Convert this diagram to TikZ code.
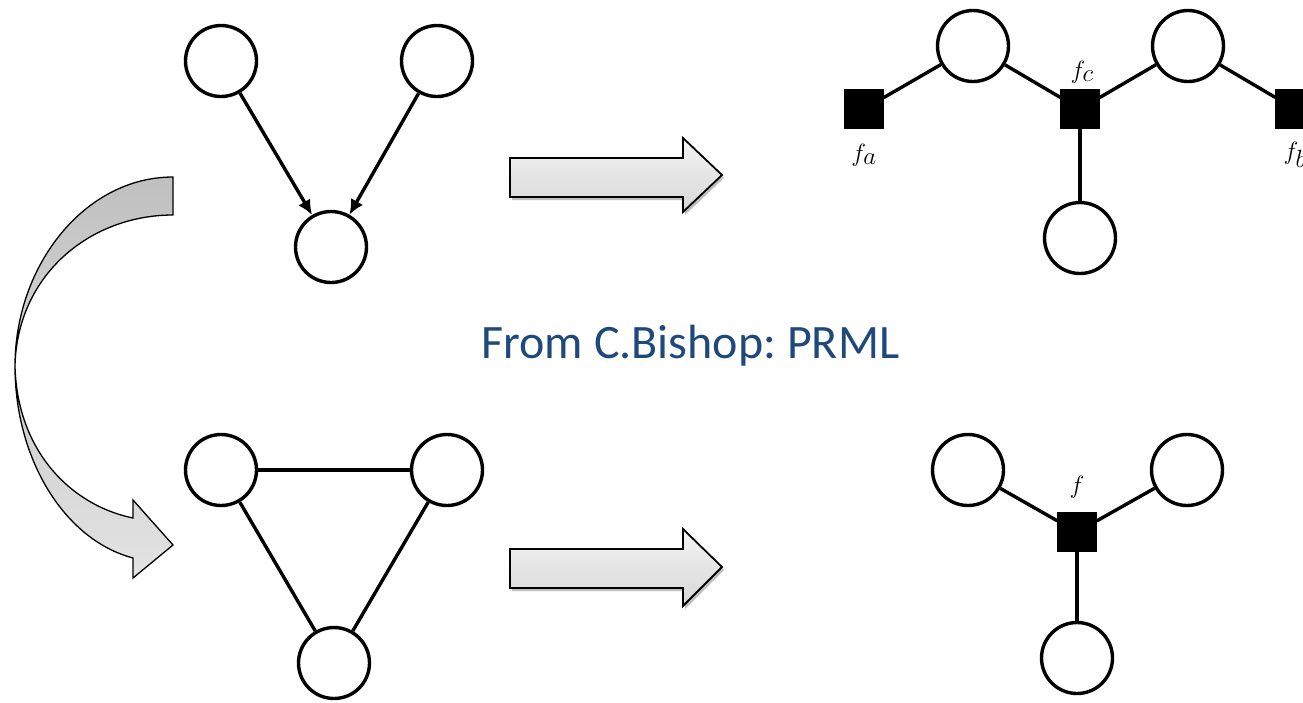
\documentclass[tikz,border=0pt]{standalone}
\usepackage{fontspec}
\newfontfamily\calibri{Carlito}
\usetikzlibrary{arrows.meta,shadows}
\definecolor{titleblue}{RGB}{31,73,125}
\frenchspacing
\begin{document}
\begin{tikzpicture}[x=1pt,y=-1pt,
  var/.style={circle,draw=black,line width=3.4pt,minimum size=71pt,inner sep=0pt},
  fac/.style={rectangle,fill=black,draw=black,minimum size=39pt,inner sep=0pt},
  edge/.style={line width=3.4pt},
  dedge/.style={line width=3.4pt,-{Latex[length=15pt,width=14pt]}},
  lab/.style={font=\fontsize{40}{48}\selectfont,inner sep=0pt},
  barrow/.style={draw=black,line width=1.8pt,line join=miter,top color=gray!8,bottom color=gray!32,
    drop shadow={shadow xshift=2pt,shadow yshift=-3pt,opacity=0.25,fill=black}},
  carrow/.style={draw=black,line width=1.3pt,line join=miter},
]
\useasboundingbox (0,0) rectangle (1303,702);

% curved arrow
\path[carrow,top color=gray!50,bottom color=gray!32]
  (173,177) .. controls (85,177) and (15,265) .. (15,366)
  .. controls (17,275) and (90,215) .. (173,215) -- cycle;
\path[carrow,top color=gray!40,bottom color=gray!22]
  (15,366) .. controls (15,460) and (65,540) .. (133,558)
  -- (133,578) -- (173,545) -- (133,500) -- (133,518)
  .. controls (70,505) and (17,450) .. (15,366) -- cycle;

% block arrows
\path[barrow] (510,158) -- (683,158) -- (683,138) -- (722,175) -- (683,212) -- (683,197) -- (510,197) -- cycle;
\path[barrow] (510,549) -- (683,549) -- (683,529) -- (722,567) -- (683,606) -- (683,588) -- (510,588) -- cycle;

% directed graph
\node[var] (a1) at (221,61) {};
\node[var] (a2) at (437,61) {};
\node[var] (a3) at (331,247) {};
\draw[dedge] (a1) -- (a3);
\draw[dedge] (a2) -- (a3);

% undirected graph
\node[var] (b1) at (221,470) {};
\node[var] (b2) at (447,470) {};
\node[var] (b3) at (334,663) {};
\draw[edge] (b1) -- (b2);
\draw[edge] (b1) -- (b3);
\draw[edge] (b2) -- (b3);

% factor graph top right
\node[fac] (fa) at (864,109) {};
\node[var] (c1) at (973,46) {};
\node[fac] (fc) at (1080,109) {};
\node[var] (c2) at (1188,46) {};
\node[fac] (fb) at (1295,109) {};
\node[var] (c3) at (1080,238) {};
\draw[edge] (fa) -- (c1);
\draw[edge] (c1) -- (fc);
\draw[edge] (fc) -- (c2);
\draw[edge] (c2) -- (fb);
\draw[edge] (fc) -- (c3);
\node[lab] (lfa) at (864,155) {$f_a$};
\node[lab] (lfc) at (1082,72) {$f_c$};
\node[lab] (lfb) at (1295,155) {$f_b$};

% factor graph bottom right
\node[var] (d1) at (968,470) {};
\node[var] (d2) at (1187,470) {};
\node[fac] (f) at (1077,532) {};
\node[var] (d3) at (1077,658) {};
\draw[edge] (d1) -- (f);
\draw[edge] (d2) -- (f);
\draw[edge] (f) -- (d3);
\node[lab] (lf) at (1077,487) {$f$};

% source text
\node[font=\calibri\fontsize{48}{56}\selectfont,text=titleblue,anchor=base,inner sep=0pt] (src) at (690.5,358) {From C.Bishop: PRML};
\end{tikzpicture}
\end{document}
